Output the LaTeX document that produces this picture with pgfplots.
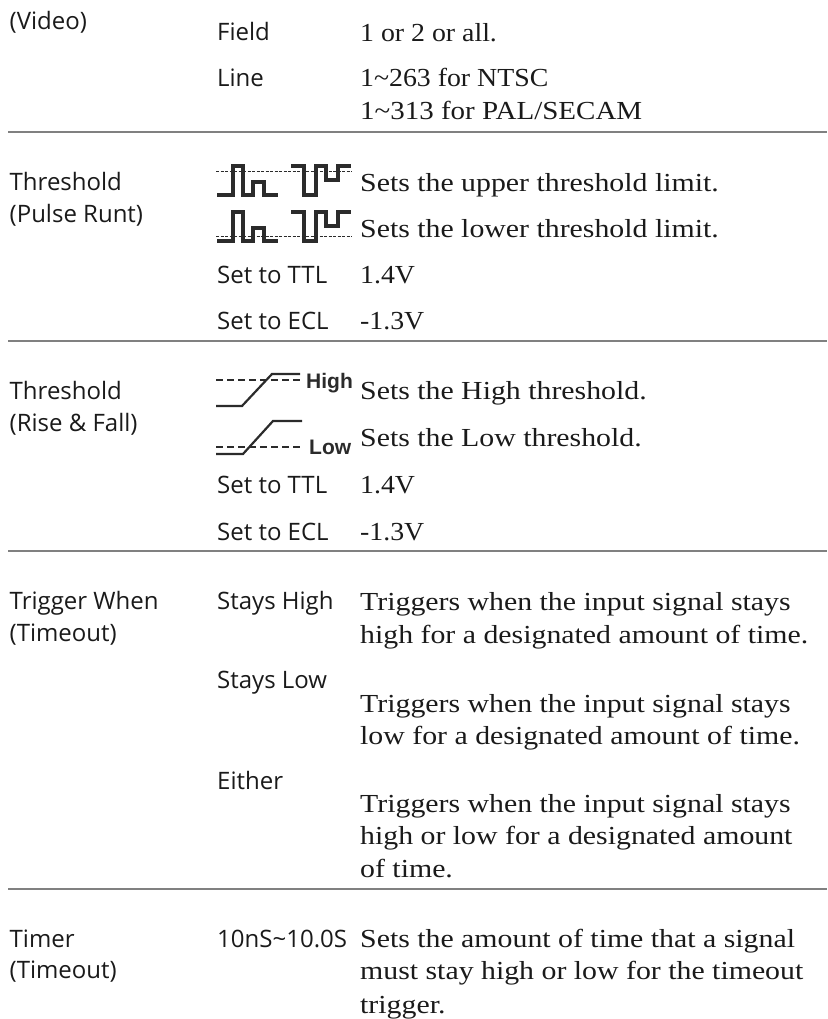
\documentclass[border=0pt]{standalone}
\usepackage{fontspec}
\usepackage{pgfplots}
\pgfplotsset{compat=1.18}
\newfontfamily\bodyf[FakeStretch=1.147]{Liberation Serif}
\newfontfamily\bodyn[FakeStretch=1.07]{Liberation Serif}
\newfontfamily\bodym[FakeStretch=1.115]{Liberation Serif}
\newfontfamily\labf{Open Sans}
\newfontfamily\iconf{Liberation Sans}
\definecolor{ink}{HTML}{1A1A1A}
\definecolor{wave}{HTML}{2B2B2B}
\definecolor{sep}{HTML}{808080}
\newcommand\B[3]{\node[anchor=base west,inner sep=0pt,text=ink] at (axis cs:#1,#2) {\fontsize{26}{26}\selectfont\bodyf #3};}
\newcommand\Bn[3]{\node[anchor=base west,inner sep=0pt,text=ink] at (axis cs:#1,#2) {\fontsize{26}{26}\selectfont\bodyn #3};}
\newcommand\Bm[3]{\node[anchor=base west,inner sep=0pt,text=ink] at (axis cs:#1,#2) {\fontsize{26}{26}\selectfont\bodym #3};}
\newcommand\La[3]{\node[anchor=base west,inner sep=0pt,text=ink] at (axis cs:#1,#2) {\fontsize{24}{24}\selectfont\labf #3};}
\newcommand\Ic[3]{\node[anchor=base west,inner sep=0pt,text=wave] at (axis cs:#1,#2) {\fontsize{21}{21}\selectfont\iconf\bfseries #3};}
\begin{document}
\begin{tikzpicture}[x=1pt,y=1pt]
\path[use as bounding box] (0,0) rectangle (827,1019);
\begin{axis}[at={(0,0)},anchor=south west,hide axis,scale only axis,width=827pt,height=1019pt,
  xmin=0,xmax=827,ymin=0,ymax=1019,y dir=reverse,clip=false]
% separators
\addplot[sep,line width=2.2pt,forget plot] coordinates {(8,132) (827,132)};
\addplot[sep,line width=2.2pt,forget plot] coordinates {(8,341) (827,341)};
\addplot[sep,line width=2.2pt,forget plot] coordinates {(8,551) (827,551)};
\addplot[sep,line width=2.2pt,forget plot] coordinates {(8,889) (827,889)};
% pulse icon, upper
\addplot[wave,line width=0.8pt,dash pattern=on 3pt off 1.5pt,forget plot] coordinates {(216,171) (352,171)};
\addplot[wave,line width=3.4pt,forget plot] coordinates {(217,195) (233,195) (233,166) (243,166) (243,195) (253,195) (253,182) (264,182) (264,195) (278,195)};
\addplot[wave,line width=3.4pt,forget plot] coordinates {(291,166) (304,166) (304,195) (316,195) (316,166) (326,166) (326,180) (338,180) (338,166) (351,166)};
% pulse icon, lower
\addplot[wave,line width=0.8pt,dash pattern=on 3pt off 1.5pt,forget plot] coordinates {(216,236) (352,236)};
\addplot[wave,line width=3.4pt,forget plot] coordinates {(217,241) (233,241) (233,212) (243,212) (243,241) (253,241) (253,228) (264,228) (264,241) (278,241)};
\addplot[wave,line width=3.4pt,forget plot] coordinates {(291,212) (304,212) (304,241) (316,241) (316,212) (326,212) (326,226) (338,226) (338,212) (351,212)};
% rise icon, high
\addplot[wave,line width=1.1pt,dash pattern=on 7pt off 4pt,forget plot] coordinates {(216,380) (300,380)};
\addplot[wave,line width=2.2pt,forget plot] coordinates {(216,406) (242,406) (272,374) (300,374)};
% rise icon, low
\addplot[wave,line width=1.1pt,dash pattern=on 7pt off 4pt,forget plot] coordinates {(216,447) (300,447)};
\addplot[wave,line width=2.2pt,forget plot] coordinates {(216,454) (243,454) (273,421) (302,421)};
\Ic{306}{388}{High}
\Ic{309}{454}{Low}
% left column
\La{9.5}{30}{(Video)}
\La{9.5}{190}{Threshold}
\La{9.5}{222}{(Pulse Runt)}
\La{9.5}{399}{Threshold}
\La{9.5}{431}{(Rise \& Fall)}
\La{9.5}{609}{Trigger When}
\La{9.5}{641}{(Timeout)}
\La{9.5}{947}{Timer}
\La{9.5}{978}{(Timeout)}
% middle column
\La{217}{41}{Field}
\La{217}{87}{Line}
\La{217}{283}{Set to TTL}
\La{217}{329}{Set to ECL}
\La{217}{493}{Set to TTL}
\La{217}{540}{Set to ECL}
\La{217}{609}{Stays High}
\La{217}{688}{Stays Low}
\La{217}{789}{Either}
\La{217}{947}{10nS\textasciitilde 10.0S}
% right column
\Bn{360}{42}{1 or 2 or all.}
\Bn{360}{87}{1\textasciitilde 263 for NTSC}
\Bm{360}{120}{1\textasciitilde 313 for PAL/SECAM}
\B{360}{191}{Sets the upper threshold limit.}
\B{360}{237}{Sets the lower threshold limit.}
\Bn{360}{283}{1.4V}
\Bn{360}{329}{-1.3V}
\B{360}{399}{Sets the High threshold.}
\B{360}{446}{Sets the Low threshold.}
\Bn{360}{493}{1.4V}
\Bn{360}{540}{-1.3V}
\B{360}{610}{Triggers when the input signal stays}
\B{360}{643}{high for a designated amount of time.}
\B{360}{712}{Triggers when the input signal stays}
\B{360}{744}{low for a designated amount of time.}
\B{360}{812}{Triggers when the input signal stays}
\B{360}{844}{high or low for a designated amount}
\B{360}{877}{of time.}
\B{360}{947}{Sets the amount of time that a signal}
\B{360}{979}{must stay high or low for the timeout}
\B{360}{1013}{trigger.}
\end{axis}
\end{tikzpicture}
\end{document}
